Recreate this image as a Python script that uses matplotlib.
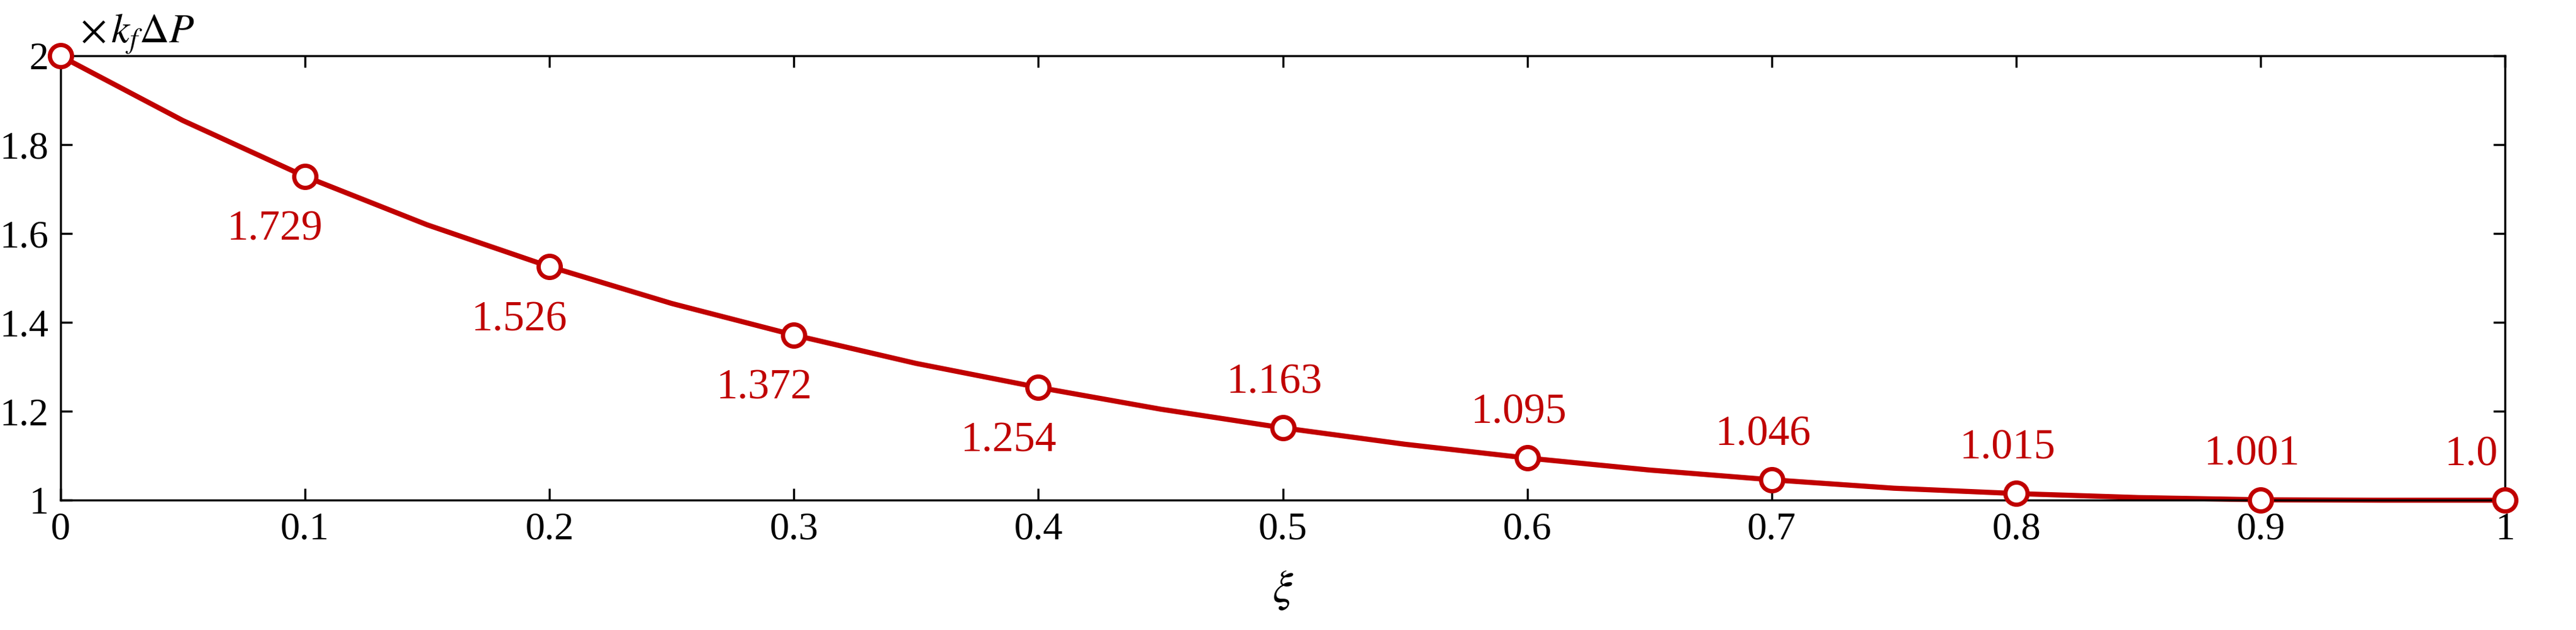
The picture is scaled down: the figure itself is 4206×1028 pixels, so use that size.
import matplotlib
matplotlib.use("Agg")
import matplotlib.pyplot as plt

plt.rcParams['font.family'] = ['Liberation Serif', 'DejaVu Serif']
plt.rcParams['mathtext.fontset'] = 'stix'

xi_line = [0, 0.05, 0.1, 0.15, 0.2, 0.25, 0.3, 0.35, 0.4, 0.45, 0.5, 0.55, 0.6,
           0.65, 0.7, 0.75, 0.8, 0.85, 0.9, 0.95, 1.0]
df_line = [2.0, 1.855, 1.729, 1.62, 1.526, 1.443, 1.372, 1.308, 1.254, 1.205, 1.163,
           1.126, 1.095, 1.068, 1.046, 1.027, 1.015, 1.006, 1.001, 1.0, 1.0]
xi_mark = [0, 0.1, 0.2, 0.3, 0.4, 0.5, 0.6, 0.7, 0.8, 0.9, 1.0]
df_mark = [2.0, 1.729, 1.526, 1.372, 1.254, 1.163, 1.095, 1.046, 1.015, 1.001, 1.0]
labels = ["", "1.729", "1.526", "1.372", "1.254", "1.163", "1.095", "1.046", "1.015", "1.001", "1.0"]

red = '#C00000'
fig = plt.figure(figsize=(42.06, 10.28), dpi=100)
ax = fig.add_axes([0.0235, 0.206, 0.949, 0.705])
ax.plot(xi_line, df_line, color=red, lw=6, clip_on=False)
ax.plot(xi_mark, df_mark, 'o', color=red, mfc='white', mew=5, ms=26, clip_on=False, zorder=5)
for x, y, t in zip(xi_mark, df_mark, labels):
    if not t:
        continue
    if x <= 0.4:
        ax.annotate(t, (x, y), xytext=(-35, -40), textcoords='offset points',
                    ha='center', va='top', color=red, fontsize=50)
    elif x < 1.0:
        ax.annotate(t, (x, y), xytext=(-10, 30), textcoords='offset points',
                    ha='center', va='bottom', color=red, fontsize=50)
    else:
        ax.annotate(t, (x, y), xytext=(-8, 30), textcoords='offset points',
                    ha='right', va='bottom', color=red, fontsize=50)
ax.set_xlim(0, 1)
ax.set_ylim(1, 2)
ax.set_xticks([0, 0.1, 0.2, 0.3, 0.4, 0.5, 0.6, 0.7, 0.8, 0.9, 1])
ax.set_xticklabels(["0", "0.1", "0.2", "0.3", "0.4", "0.5", "0.6", "0.7", "0.8", "0.9", "1"])
ax.set_yticks([1, 1.2, 1.4, 1.6, 1.8, 2])
ax.set_yticklabels(["1", "1.2", "1.4", "1.6", "1.8", "2"])
ax.tick_params(direction='in', length=14, width=2.5, labelsize=46, pad=14, top=True, right=True)
for s in ax.spines.values():
    s.set_linewidth(2.5)
ax.set_xlabel(r'$\xi$', fontsize=54, labelpad=25)
ax.set_ylabel(r'$\Delta\, f$ (Hz)', fontsize=52, labelpad=4)
ax.text(0.008, 1.0, r'$\times\,k_f\Delta P$', transform=ax.transAxes, fontsize=48, va='bottom', ha='left')
fig.savefig('out.png', dpi=100)
